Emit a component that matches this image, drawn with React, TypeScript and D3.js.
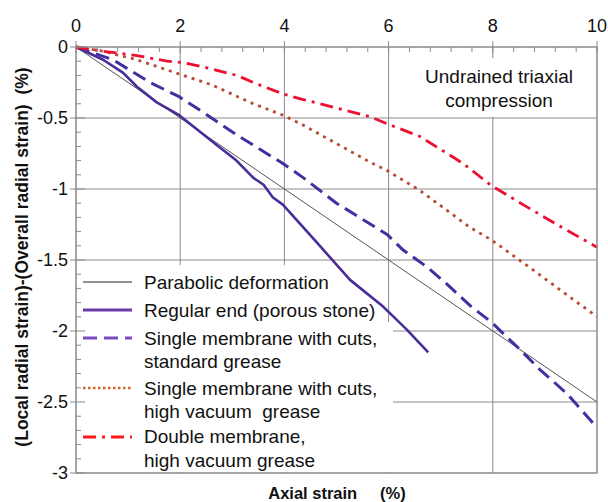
import React from "react";
import * as d3 from "d3";

const xTicks = [0, 2, 4, 6, 8, 10];
const yTicks = [0, -0.5, -1, -1.5, -2, -2.5, -3];

const parabolicX = [0, 10];
const parabolicY = [0, -2.5];

const regularX = [0, 0.52, 0.9, 1.17, 1.55, 1.98, 2.32, 2.7, 3.08, 3.4, 3.6, 3.78, 3.97, 4.63, 5.26, 5.9, 6.35, 6.76];
const regularY = [0, -0.09, -0.18, -0.28, -0.39, -0.48, -0.58, -0.69, -0.8, -0.92, -0.97, -1.06, -1.11, -1.38, -1.64, -1.83, -1.99, -2.15];

const singleStdX = [0, 0.71, 1.42, 1.98, 2.44, 3.09, 3.97, 4.36, 5.0, 5.97, 6.28, 6.74, 7.12, 7.56, 7.98, 8.52, 8.9, 9.42, 10];
const singleStdY = [0, -0.09, -0.25, -0.35, -0.46, -0.62, -0.82, -0.92, -1.1, -1.32, -1.43, -1.55, -1.67, -1.82, -1.94, -2.13, -2.27, -2.44, -2.68];

const singleHvX = [0, 0.52, 1.17, 1.98, 2.63, 3.34, 3.97, 4.36, 5.0, 5.64, 5.97, 6.6, 7.12, 7.56, 7.98, 8.66, 9.29, 10];
const singleHvY = [0, -0.03, -0.09, -0.19, -0.27, -0.39, -0.48, -0.55, -0.68, -0.81, -0.87, -1.01, -1.15, -1.27, -1.36, -1.54, -1.71, -1.9];

const doubleX = [0, 0.52, 1.17, 1.75, 2.05, 2.44, 3.09, 3.47, 3.97, 4.36, 5.0, 5.64, 5.97, 6.6, 7.43, 7.95, 8.58, 9.23, 10];
const doubleY = [0, -0.03, -0.06, -0.1, -0.11, -0.14, -0.2, -0.26, -0.33, -0.37, -0.43, -0.49, -0.54, -0.63, -0.82, -0.97, -1.11, -1.25, -1.41];

const legendLabels = [
  ["Parabolic deformation"],
  ["Regular end (porous stone)"],
  ["Single membrane with cuts,", "standard grease"],
  ["Single membrane with cuts,", "high vacuum  grease"],
  ["Double membrane,", "high vacuum grease"],
];

const FONT = "'Liberation Sans', Arial, sans-serif";

export default function App() {
  const W = 608, H = 502;
  const x = d3.scaleLinear().domain([0, 10]).range([76, 597]);
  const y = d3.scaleLinear().domain([0, -3]).range([47, 473]);
  const line = d3.line<[number, number]>().x((d) => x(d[0])).y((d) => y(d[1]));
  const zip = (a: number[], b: number[]) => a.map((v, i) => [v, b[i]] as [number, number]);

  const series = [
    { d: zip(parabolicX, parabolicY), color: "#555", w: 1, dash: "", lw: 1.2, ldash: "" },
    { d: zip(regularX, regularY), color: "#4a2c98", w: 2.6, dash: "", lw: 3, ldash: "" },
    { d: zip(singleStdX, singleStdY), color: "#3d32a0", w: 3, dash: "14 7", lw: 3, ldash: "14 7" },
    { d: zip(singleHvX, singleHvY), color: "#b84a36", w: 2.8, dash: "3 5", lw: 2.6, ldash: "2.5 2.5" },
    { d: zip(doubleX, doubleY), color: "#ec1030", w: 2.8, dash: "13 6 3 6", lw: 3, ldash: "13 6 3 6" },
  ];
  const legendLineY = [282, 310, 338, 388, 437];
  const legendTextY = [[289], [317], [345, 368], [395, 418], [443, 467]];
  const legendColors = ["#222", "#6a3aa8", "#7a4cc0", "#d0622a", "#ff1a1a"];

  const xMinor = d3.range(0, 10.001, 0.4).filter((v) => Math.abs(v / 2 - Math.round(v / 2)) > 1e-6);
  const yMinor = d3.range(0, -3.001, -0.1).filter((v) => Math.abs(v * 2 - Math.round(v * 2)) > 1e-6);
  const grid = "#8a8a8a";

  return (
    <svg width={W} height={H} style={{ position: "absolute", left: 0, top: 0, background: "#fff" }} fontFamily={FONT}>
      <rect x={0} y={0} width={W} height={H} fill="#fff" />
      {xTicks.map((t) => (
        <line key={"gx" + t} x1={x(t)} x2={x(t)} y1={y(0)} y2={y(-3)} stroke={grid} strokeWidth={1} />
      ))}
      {yTicks.map((t) => (
        <line key={"gy" + t} x1={x(0)} x2={x(10)} y1={y(t)} y2={y(t)} stroke={grid} strokeWidth={1} />
      ))}
      <rect x={77} y={265} width={308} height={57} fill="#fff" />
      <rect x={77} y={322} width={316} height={150} fill="#fff" />
      <rect x={410} y={58} width={186} height={59} fill="#fff" />
      <text x={499} y={83} fontSize={19} textAnchor="middle" fill="#111">Undrained triaxial</text>
      <text x={499} y={107} fontSize={19} textAnchor="middle" fill="#111">compression</text>
      {series.map((s, i) => (
        <path key={"s" + i} d={line(s.d) || ""} fill="none" stroke={s.color} strokeWidth={s.w}
          strokeDasharray={s.dash || undefined} strokeLinejoin="round" />
      ))}
      {series.map((s, i) => (
        <g key={"l" + i}>
          <line x1={83} x2={132} y1={legendLineY[i]} y2={legendLineY[i]} stroke={legendColors[i]}
            strokeWidth={i === 0 ? 1.2 : s.lw} strokeDasharray={s.ldash || undefined} />
          {legendLabels[i].map((lab, j) => (
            <text key={j} x={144} y={legendTextY[i][j]} fontSize={19} fill="#111" style={{ whiteSpace: "pre" }}>{lab}</text>
          ))}
        </g>
      ))}
      <rect x={x(0)} y={y(0)} width={x(10) - x(0)} height={y(-3) - y(0)} fill="none" stroke={grid} strokeWidth={1} />
      {xTicks.map((t) => (
        <g key={"tx" + t}>
          <line x1={x(t)} x2={x(t)} y1={y(0) - 6} y2={y(0) + 6} stroke={grid} />
          <text x={x(t)} y={32} fontSize={18} textAnchor="middle" fill="#111">{t}</text>
        </g>
      ))}
      {xMinor.map((t) => (
        <line key={"mx" + t} x1={x(t)} x2={x(t)} y1={y(0)} y2={y(0) + 5} stroke={grid} />
      ))}
      {yTicks.map((t) => (
        <g key={"ty" + t}>
          <line x1={x(0) - 6} x2={x(0) + 9} y1={y(t)} y2={y(t)} stroke={grid} />
          <text x={68} y={y(t)} dy="0.35em" fontSize={18} textAnchor="end" fill="#111">{t}</text>
        </g>
      ))}
      {yMinor.map((t) => (
        <line key={"my" + t} x1={x(0)} x2={x(0) + 5} y1={y(t)} y2={y(t)} stroke={grid} />
      ))}
      <text transform="translate(28,257) rotate(-90)" textAnchor="middle" fontSize={17.5} fontWeight="bold" fill="#111"
        style={{ whiteSpace: "pre" }}>{"(Local radial strain)-(Overall radial strain)  (%)"}</text>
      <text x={337} y={499} textAnchor="middle" fontSize={16.5} fontWeight="bold" fill="#111"
        style={{ whiteSpace: "pre" }}>{"Axial strain     (%)"}</text>
    </svg>
  );
}
